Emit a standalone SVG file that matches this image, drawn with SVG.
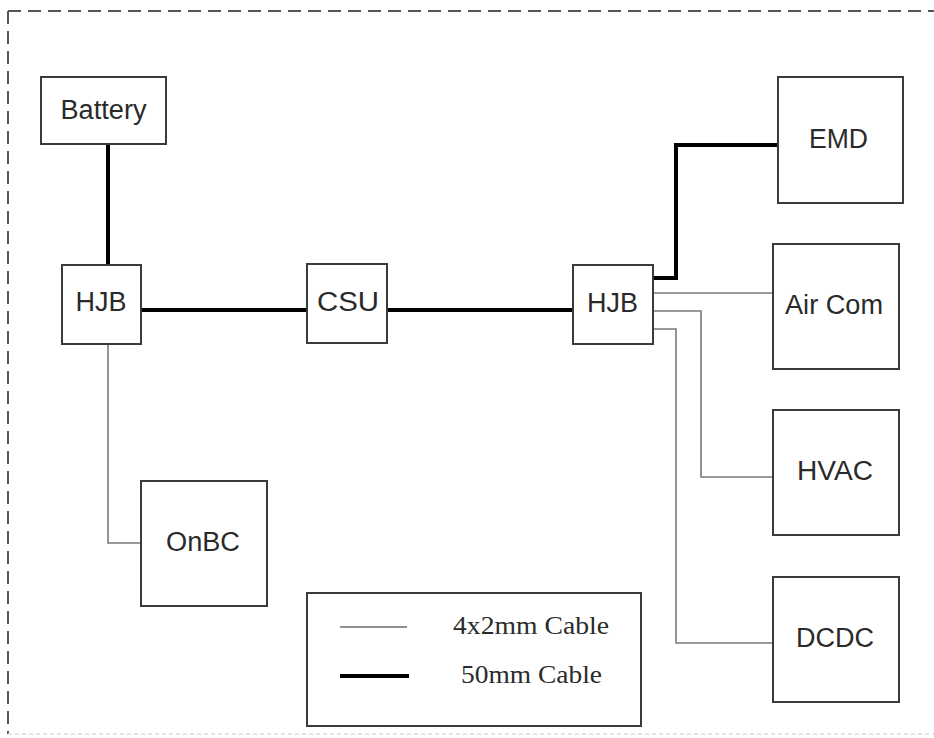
<svg xmlns="http://www.w3.org/2000/svg" width="934" height="738" viewBox="0 0 934 738">
<style>
.box{fill:#fff;stroke:#3a3a3a;stroke-width:2}
.lbl{font-family:"Liberation Sans",Arial,sans-serif;font-size:27px;fill:#2a2a2a;text-anchor:middle}
.leg{font-family:"Liberation Serif","Times New Roman",serif;font-size:25px;fill:#2a2a2a}
.thin{fill:none;stroke:#7a7a7a;stroke-width:1.6}
.thick{fill:none;stroke:#000;stroke-width:4}
.border{fill:none;stroke:#555;stroke-width:2;stroke-dasharray:13 7}
</style>
<rect width="934" height="738" fill="#fff"/>
<g id="frame">
<line class="border" x1="8" y1="11" x2="934" y2="11"/>
<line class="border" x1="8" y1="11" x2="8" y2="734"/>
<line x1="8" y1="734" x2="934" y2="734" stroke="#ddd" stroke-width="1.5" stroke-dasharray="4 3"/>
</g>
<g id="connectors">
<path class="thick" d="M108,144 V265"/>
<path class="thick" d="M141,310 H307"/>
<path class="thick" d="M387,310 H573"/>
<path class="thick" d="M653,278 H676 V145 H778"/>
<path class="thin" d="M108,344 V543 H141"/>
<path class="thin" d="M653,293 H773"/>
<path class="thin" d="M653,311 H701 V477 H773"/>
<path class="thin" d="M653,329 H676 V643 H773"/>
</g>
<g id="battery"><rect class="box" x="41" y="77" width="125" height="67"/><text class="lbl" x="103.5" y="119" textLength="86" lengthAdjust="spacingAndGlyphs">Battery</text></g>
<g id="hjb-left"><rect class="box" x="62" y="265" width="79" height="79"/><text class="lbl" x="101" y="311" textLength="51" lengthAdjust="spacingAndGlyphs">HJB</text></g>
<g id="csu"><rect class="box" x="307" y="264" width="80" height="79"/><text class="lbl" x="348" y="311" textLength="62" lengthAdjust="spacingAndGlyphs">CSU</text></g>
<g id="hjb-right"><rect class="box" x="573" y="265" width="80" height="79"/><text class="lbl" x="612.5" y="311.5" textLength="51" lengthAdjust="spacingAndGlyphs">HJB</text></g>
<g id="emd"><rect class="box" x="778" y="77" width="125" height="126"/><text class="lbl" x="838.5" y="148" textLength="59" lengthAdjust="spacingAndGlyphs">EMD</text></g>
<g id="aircom"><rect class="box" x="773" y="244" width="126" height="125"/><text class="lbl" x="834" y="314" textLength="98" lengthAdjust="spacingAndGlyphs">Air Com</text></g>
<g id="hvac"><rect class="box" x="773" y="410" width="126" height="125"/><text class="lbl" x="835" y="479.5" textLength="76" lengthAdjust="spacingAndGlyphs">HVAC</text></g>
<g id="dcdc"><rect class="box" x="773" y="577" width="126" height="125"/><text class="lbl" x="835" y="646.5" textLength="78" lengthAdjust="spacingAndGlyphs">DCDC</text></g>
<g id="onbc"><rect class="box" x="141" y="481" width="126" height="125"/><text class="lbl" x="203" y="551" textLength="74" lengthAdjust="spacingAndGlyphs">OnBC</text></g>
<g id="legend">
<rect class="box" x="307" y="593" width="334" height="133"/>
<line x1="340" y1="627" x2="407" y2="627" stroke="#6a6a6a" stroke-width="1.6"/>
<line x1="340" y1="676" x2="409" y2="676" stroke="#000" stroke-width="4"/>
<text class="leg" x="453" y="634" textLength="156" lengthAdjust="spacingAndGlyphs">4x2mm Cable</text>
<text class="leg" x="461" y="683" textLength="141" lengthAdjust="spacingAndGlyphs">50mm Cable</text>
</g>
</svg>
